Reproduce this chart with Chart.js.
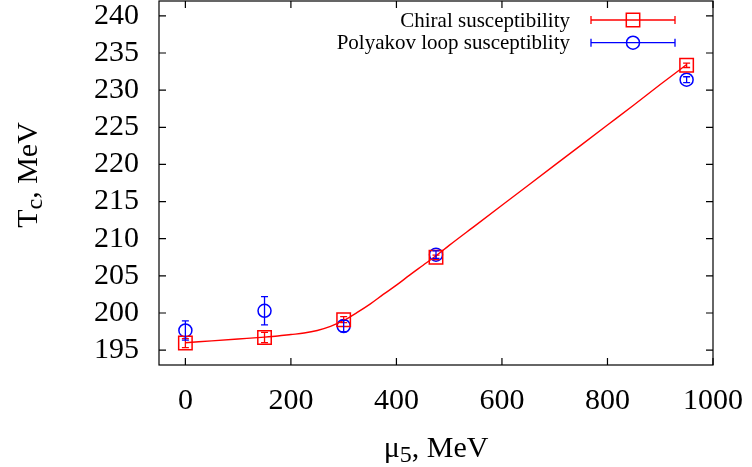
<!DOCTYPE html>
<html>
<head>
<meta charset="utf-8">
<script src="https://cdn.jsdelivr.net/npm/chart.js@4.4.1/dist/chart.umd.min.js"></script>
<style>
    html, body { margin: 0; padding: 0; background: #ffffff; }
</style>
</head>
<body>
<canvas id="graphiqueTc" width="752" height="467"></canvas>
<script>
// Valeurs
const MU5           = [0, 150, 300, 475, 950];
const T_CHIRAL      = [195.95, 196.7, 199.1, 207.5, 233.35];
const ERR_CHIRAL    = [0.6, 0.7, 0.4, 0.3, 0.3];
const T_POLYAKOV    = [197.65, 200.3, 198.25, 207.85, 231.4];
const ERR_POLYAKOV  = [1.3, 1.9, 0.75, 0.5, 0.4];

// Courbe d'ajustement (rouge) (plus serrée dans le coude)
const FIT_MU = [0, 50, 100, 150, 175, 200, 225, 250, 275, 300, 325, 350, 375, 400, 425, 450, 475, 500,
                550, 600, 650, 700, 750, 800, 850, 900, 950];
const FIT_T  = [196.0, 196.25, 196.5, 196.75, 196.9, 197.1, 197.3, 197.65, 198.2, 199.0, 200.05, 201.2,
                202.5, 203.75, 205.1, 206.4, 207.7, 209.1, 211.8, 214.5, 217.2, 219.9, 222.6, 225.3,
                228.0, 230.75, 233.45];

const X_TICKS = [0, 200, 400, 600, 800, 1000];
const X_LABELS = ['0', '200', '400', '600', '800', '1000'];
const Y_TICKS = [195, 200, 205, 210, 215, 220, 225, 230, 235, 240];
const Y_LABELS = ['195', '200', '205', '210', '215', '220', '225', '230', '235', '240'];

const LEGEND_LABELS = ['Chiral susceptibility', 'Polyakov loop susceptiblity'];

const ROUGE = '#ff0000';
const BLEU  = '#0000ff';
const POLICE = '"Liberation Serif", "DejaVu Serif", serif';

/**
 * Dessine un texte avec indice (ex. T_c), centré sur x.
 */
function texteAvecIndice(ctx, morceaux, x, y, taille) {
    let largeur = 0;
    morceaux.forEach(m => {
        ctx.font = (m.indice ? taille * 0.8 : taille) + 'px ' + POLICE;
        largeur += ctx.measureText(m.texte).width;
    });
    let cx = x - largeur / 2;
    morceaux.forEach(m => {
        ctx.font = (m.indice ? taille * 0.8 : taille) + 'px ' + POLICE;
        ctx.fillText(m.texte, cx, y + (m.indice ? 5 : 0));
        cx += ctx.measureText(m.texte).width;
    });
}

/**
 * Barres d'erreur, cadre style gnuplot, légende et titres d'axes.
 */
const pluginGnuplot = {
    id : 'gnuplot',
    afterDatasetsDraw(chart) {
        const ctx = chart.ctx;
        const sx = chart.scales.x;
        const sy = chart.scales.y;
        const series = [
            { t : T_CHIRAL,   e : ERR_CHIRAL,   c : ROUGE },
            { t : T_POLYAKOV, e : ERR_POLYAKOV, c : BLEU }
        ];
        ctx.save();
        ctx.lineWidth = 1.3;
        series.forEach(s => {
            ctx.strokeStyle = s.c;
            MU5.forEach((mu, i) => {
                const px = sx.getPixelForValue(mu);
                const y1 = sy.getPixelForValue(s.t[i] + s.e[i]);
                const y2 = sy.getPixelForValue(s.t[i] - s.e[i]);
                ctx.beginPath();
                ctx.moveTo(px, y1); ctx.lineTo(px, y2);
                ctx.moveTo(px - 3.5, y1); ctx.lineTo(px + 3.5, y1);
                ctx.moveTo(px - 3.5, y2); ctx.lineTo(px + 3.5, y2);
                ctx.stroke();
            });
        });
        ctx.restore();
    },
    afterDraw(chart) {
        const ctx = chart.ctx;
        const a = chart.chartArea;
        const sx = chart.scales.x;
        const sy = chart.scales.y;
        ctx.save();

        // Cadre et graduations vers l'intérieur
        ctx.strokeStyle = '#000000';
        ctx.lineWidth = 1.2;
        ctx.strokeRect(a.left, a.top, a.right - a.left, a.bottom - a.top);
        ctx.beginPath();
        X_TICKS.forEach(v => {
            const px = sx.getPixelForValue(v);
            ctx.moveTo(px, a.bottom); ctx.lineTo(px, a.bottom - 7);
            ctx.moveTo(px, a.top);    ctx.lineTo(px, a.top + 7);
        });
        Y_TICKS.forEach(v => {
            const py = sy.getPixelForValue(v);
            ctx.moveTo(a.left, py);  ctx.lineTo(a.left + 7, py);
            ctx.moveTo(a.right, py); ctx.lineTo(a.right - 7, py);
        });
        ctx.stroke();

        // Légende
        const couleurs = [ROUGE, BLEU];
        const lignes = [20, 42.7];
        ctx.font = '21px ' + POLICE;
        ctx.textAlign = 'right';
        ctx.textBaseline = 'middle';
        ctx.fillStyle = '#000000';
        LEGEND_LABELS.forEach((txt, i) => {
            const y = lignes[i];
            ctx.fillText(txt, 570, y + 1);
            ctx.strokeStyle = couleurs[i];
            ctx.lineWidth = 1.3;
            ctx.beginPath();
            ctx.moveTo(591, y); ctx.lineTo(675, y);
            ctx.moveTo(591, y - 4); ctx.lineTo(591, y + 4);
            ctx.moveTo(675, y - 4); ctx.lineTo(675, y + 4);
            ctx.stroke();
            ctx.lineWidth = 1.5;
            ctx.beginPath();
            if (i === 0) {
                ctx.rect(633 - 6.7, y - 6.7, 13.4, 13.4);
            } else {
                ctx.arc(633, y, 6.5, 0, Math.PI * 2);
            }
            ctx.stroke();
        });

        // Titres des axes
        ctx.fillStyle = '#000000';
        ctx.textAlign = 'left';
        ctx.textBaseline = 'alphabetic';
        texteAvecIndice(ctx, [
            { texte : '\u03bc' },
            { texte : '5', indice : true },
            { texte : ', MeV' }
        ], (a.left + a.right) / 2, 456.7, 30);

        ctx.translate(37, 175);
        ctx.rotate(-Math.PI / 2);
        texteAvecIndice(ctx, [
            { texte : 'T' },
            { texte : 'c', indice : true },
            { texte : ', MeV' }
        ], 0, 0, 30);
        ctx.restore();
    }
};

/**
 * Crée le graphique Tc(μ5).
 */
function creerGraphique() {
    const canvas = document.getElementById('graphiqueTc');

    new Chart(canvas, {
        type : 'scatter',
        data : {
            datasets : [
                {
                    label                  : 'fit',
                    data                   : FIT_MU.map((x, i) => ({ x : x, y : FIT_T[i] })),
                    showLine               : true,
                    borderColor            : ROUGE,
                    borderWidth            : 1.4,
                    pointRadius            : 0,
                    cubicInterpolationMode : 'monotone'
                },
                {
                    label           : LEGEND_LABELS[0],
                    data            : MU5.map((x, i) => ({ x : x, y : T_CHIRAL[i] })),
                    pointStyle      : 'rect',
                    pointRadius     : 9.5,
                    borderColor     : ROUGE,
                    backgroundColor : 'rgba(0,0,0,0)',
                    borderWidth     : 1.5
                },
                {
                    label           : LEGEND_LABELS[1],
                    data            : MU5.map((x, i) => ({ x : x, y : T_POLYAKOV[i] })),
                    pointStyle      : 'circle',
                    pointRadius     : 6.5,
                    borderColor     : BLEU,
                    backgroundColor : 'rgba(0,0,0,0)',
                    borderWidth     : 1.5
                }
            ]
        },
        options : {
            responsive       : false,
            animation        : false,
            devicePixelRatio : 1,
            layout : {
                autoPadding : false,
                padding     : { top : 1, right : 39, left : 0, bottom : 0 }
            },
            plugins : {
                legend  : { display : false },
                tooltip : { enabled : false }
            },
            scales : {
                x : {
                    type   : 'linear',
                    min    : -50,
                    max    : 1000,
                    grid   : { display : false, drawTicks : false },
                    border : { display : false },
                    afterBuildTicks : s => { s.ticks = X_TICKS.map(v => ({ value : v })); },
                    afterFit        : s => {
                        s.height = 102;
                        s.paddingLeft = 0;
                        s.paddingRight = 0;
                    },
                    ticks : {
                        color       : '#000000',
                        padding     : 18,
                        autoSkip    : false,
                        maxRotation : 0,
                        font        : { family : POLICE, size : 30 },
                        callback    : (v) => X_LABELS[X_TICKS.indexOf(v)]
                    }
                },
                y : {
                    type   : 'linear',
                    min    : 193,
                    max    : 242,
                    grid   : { display : false, drawTicks : false },
                    border : { display : false },
                    afterBuildTicks : s => { s.ticks = Y_TICKS.map(v => ({ value : v })); },
                    afterFit        : s => {
                        s.width = 159;
                        s.paddingTop = 0;
                        s.paddingBottom = 0;
                    },
                    ticks : {
                        color    : '#000000',
                        padding  : 20,
                        autoSkip : false,
                        font     : { family : POLICE, size : 30 },
                        callback : (v) => Y_LABELS[Y_TICKS.indexOf(v)]
                    }
                }
            }
        },
        plugins : [pluginGnuplot]
    });
}

document.addEventListener('DOMContentLoaded', creerGraphique);
</script>
</body>
</html>
